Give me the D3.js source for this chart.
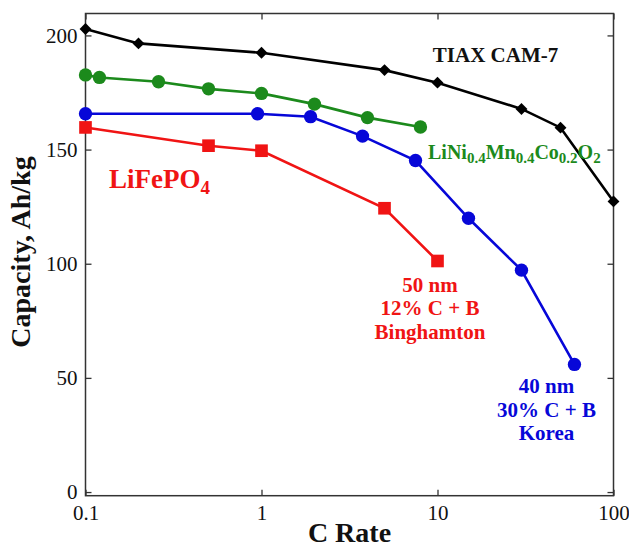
<!DOCTYPE html>
<html>
<head>
<meta charset="utf-8">
<script src="https://cdn.jsdelivr.net/npm/d3@7"></script>
<style>
  body { margin: 0; background: #fff; }
  svg text { font-family: "Liberation Serif", "Times New Roman", serif; }
</style>
</head>
<body>
<svg width="629" height="548"></svg>
<script>
const svg = d3.select("svg");

// C rate (x) and capacity in Ah/kg (y)
const tiaxRate = [0.1, 0.2, 1, 5, 10, 30, 50, 100];
const tiaxCap = [202.8, 196.5, 192.4, 184.8, 179.3, 167.8, 159.6, 127.3];

const nmcRate = [0.1, 0.12, 0.26, 0.5, 1, 2, 4, 8];
const nmcCap = [182.7, 181.6, 179.7, 176.6, 174.6, 169.9, 164, 159.9];

const koreaRate = [0.1, 0.95, 1.9, 3.75, 7.5, 15, 30, 60];
const koreaCap = [165.7, 165.7, 164.4, 155.9, 145.2, 119.9, 97.2, 55.9];

const lfpRate = [0.1, 0.5, 1, 5, 10];
const lfpCap = [159.7, 151.7, 149.5, 124.3, 101.2];

const xTicks = [0.1, 1, 10, 100];
const yTicks = [0, 50, 100, 150, 200];

const padding = { top: 13.5, right: 15.5, bottom: 52.3, left: 85.5 };
const width = 629, height = 548;

const x = d3.scaleLog().domain([0.1, 100]).range([padding.left, width - padding.right]);
const y = d3.scaleLinear().domain([-1.6, 209.6]).range([height - padding.bottom, padding.top]);

const zip = (xs, ys) => xs.map((d, i) => [d, ys[i]]);
const line = d3.line().x(d => x(d[0])).y(d => y(d[1]));

// axes: ticks point inward, labels only on left and bottom
const tickLen = 6;
svg.append("g")
    .attr("transform", `translate(${padding.left},0)`)
    .call(d3.axisLeft(y).tickValues(yTicks).tickSizeInner(-tickLen).tickSizeOuter(0).tickPadding(8))
    .call(g => g.select(".domain").remove())
    .call(g => g.selectAll("text").attr("font-size", 21).attr("font-family", "Liberation Serif").attr("fill", "#111"));

svg.append("g")
    .attr("transform", `translate(${width - padding.right},0)`)
    .call(d3.axisRight(y).tickValues(yTicks).tickSizeInner(-tickLen).tickSizeOuter(0).tickFormat(""))
    .call(g => g.select(".domain").remove());

svg.append("g")
    .attr("transform", `translate(0,${height - padding.bottom})`)
    .call(d3.axisBottom(x).tickValues(xTicks).tickSizeInner(-tickLen).tickSizeOuter(0).tickPadding(9).tickFormat(d => d))
    .call(g => g.select(".domain").remove())
    .call(g => g.selectAll("text").attr("font-size", 21).attr("font-family", "Liberation Serif").attr("fill", "#111"));

svg.append("g")
    .attr("transform", `translate(0,${padding.top})`)
    .call(d3.axisTop(x).tickValues(xTicks).tickSizeInner(-tickLen).tickSizeOuter(0).tickFormat(""))
    .call(g => g.select(".domain").remove());

svg.selectAll(".tick line").attr("stroke", "#333").attr("stroke-width", 1.3);

// frame
svg.append("rect")
    .attr("x", padding.left).attr("y", padding.top)
    .attr("width", width - padding.left - padding.right)
    .attr("height", height - padding.top - padding.bottom)
    .attr("fill", "none").attr("stroke", "#333").attr("stroke-width", 1.5);

// series
const series = [
    { pts: zip(tiaxRate, tiaxCap), color: "#000000", marker: "diamond" },
    { pts: zip(nmcRate, nmcCap), color: "#1c8a1c", marker: "circle" },
    { pts: zip(koreaRate, koreaCap), color: "#0707d8", marker: "circle" },
    { pts: zip(lfpRate, lfpCap), color: "#f01414", marker: "square" }
];

series.forEach(s => {
    svg.append("path")
        .datum(s.pts)
        .attr("d", line)
        .attr("fill", "none")
        .attr("stroke", s.color)
        .attr("stroke-width", 2.6);

    const sym = s.marker === "diamond"
        ? d3.symbol().type(d3.symbolDiamond2).size(90)
        : s.marker === "square"
            ? d3.symbol().type(d3.symbolSquare).size(160)
            : d3.symbol().type(d3.symbolCircle).size(140);

    svg.append("g").selectAll("path")
        .data(s.pts)
        .join("path")
        .attr("transform", d => `translate(${x(d[0])},${y(d[1])})`)
        .attr("d", sym)
        .attr("fill", s.color);
});

// labels
const bold = sel => sel.attr("font-weight", "bold");

svg.append("text")
    .attr("x", 495.5).attr("y", 62)
    .attr("text-anchor", "middle")
    .attr("font-size", 21).attr("fill", "#111")
    .call(bold)
    .text("TIAX CAM-7");

const lfp = svg.append("text")
    .attr("x", 109).attr("y", 188)
    .attr("font-size", 27).attr("fill", "#f01414")
    .call(bold);
lfp.append("tspan").text("LiFePO");
lfp.append("tspan").attr("font-size", 19).attr("dy", 6).text("4");

const nmc = svg.append("text")
    .attr("x", 428).attr("y", 159)
    .attr("font-size", 20).attr("fill", "#1c8a1c")
    .call(bold);
[["LiNi", false], ["0.4", true], ["Mn", false], ["0.4", true], ["Co", false], ["0.2", true], ["O", false], ["2", true]]
    .forEach(([t, sub]) => {
        nmc.append("tspan")
            .attr("font-size", sub ? 15 : 20)
            .attr("baseline-shift", sub ? "-28%" : null)
            .text(t);
    });

const block = (lines, cx, y0, color) => {
    const t = svg.append("text")
        .attr("text-anchor", "middle")
        .attr("font-size", 21).attr("fill", color)
        .call(bold);
    lines.forEach((l, i) => {
        t.append("tspan").attr("x", cx).attr("y", y0 + i * 23.5).text(l);
    });
};
block(["50 nm", "12% C + B", "Binghamton"], 430, 291.5, "#f01414");
block(["40 nm", "30% C + B", "Korea"], 546.5, 393, "#0707d8");

// axis titles
svg.append("text")
    .attr("x", 349.5).attr("y", 542)
    .attr("text-anchor", "middle")
    .attr("font-size", 28).attr("fill", "#111")
    .call(bold)
    .text("C Rate");

svg.append("text")
    .attr("transform", "translate(30,252) rotate(-90)")
    .attr("text-anchor", "middle")
    .attr("font-size", 28).attr("fill", "#111")
    .call(bold)
    .text("Capacity, Ah/kg");
</script>
</body>
</html>
